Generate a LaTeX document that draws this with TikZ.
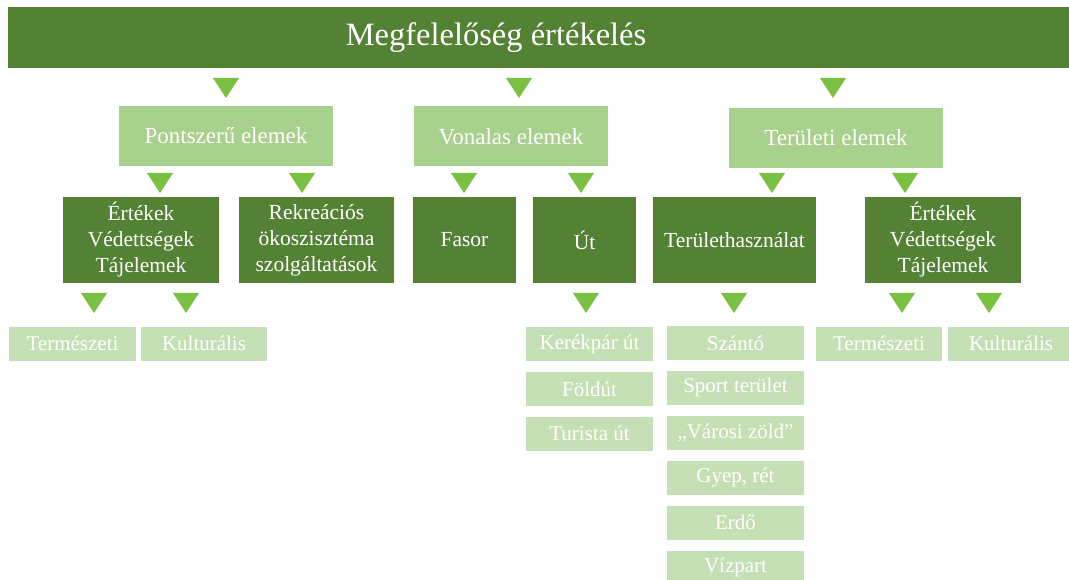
\documentclass[tikz,border=0pt]{standalone}
\usepackage{fontspec}
\setmainfont{Liberation Serif}
\usetikzlibrary{positioning}
\definecolor{mgdark}{HTML}{548235}
\definecolor{mglight}{HTML}{A9D18E}
\definecolor{mgpale}{HTML}{C5E0B4}
\definecolor{mgarrow}{HTML}{7AC143}
\tikzset{
  box/.style={inner sep=0pt,align=center,text=white},
  head/.style={box,fill=mgdark,minimum width=1064pt,minimum height=61pt},
  headtext/.style={box,font=\fontsize{32.5}{36}\selectfont},
  grp/.style={box,fill=mglight,minimum width=214pt,minimum height=60pt,font=\fontsize{23}{27}\selectfont},
  sub/.style={box,fill=mgdark,minimum height=86pt,font=\fontsize{21.5}{26}\selectfont},
  leaf/.style={box,fill=mgpale,minimum width=127pt,minimum height=34pt,font=\fontsize{21}{25}\selectfont},
  tri/.pic={\fill[mgarrow] (-13,-10) -- (13,-10) -- (0,10) -- cycle;},
}

\begin{document}
\begin{tikzpicture}[x=1pt,y=-1pt,node distance=10.5pt]
  \useasboundingbox[fill=white] (0,0) rectangle (1069,580);
  \node[head] (root) at (540,37.5) {};
  \node[headtext] (title) at ([xshift=-44pt]root.center) {Megfelelőség értékelés};

  % groups
  \node[grp] (pont) at (226,136) {Pontszerű elemek};
  \node[grp,minimum width=194pt] (vonal) at (511,136.5) {Vonalas elemek};
  \node[grp] (terul) at (836,138) {Területi elemek};
  \pic (t1) at (226,88) {tri};
  \pic (t2) at (519,88) {tri};
  \pic (t3) at (833,88) {tri};

  % second row
  \node[sub,minimum width=156pt] (ert1) at (141,240) {Értékek\\Védettségek\\Tájelemek};
  \node[sub,minimum width=155pt] (rekr) at (316.5,240) {Rekreációs\\ökoszisztéma\\szolgáltatások};
  \node[sub,minimum width=103pt] (fasor) at (464.5,240) {Fasor};
  \node[sub,minimum width=103pt] (ut) at (584.5,240) {Út};
  \node[sub,minimum width=163pt] (terhasz) at (734.5,240) {Területhasználat};
  \node[sub,minimum width=156pt] (ert2) at (943,240) {Értékek\\Védettségek\\Tájelemek};
  \pic (t4) at (160,183) {tri};
  \pic (t5) at (302,183) {tri};
  \pic (t6) at (464,183) {tri};
  \pic (t7) at (581,183) {tri};
  \pic (t8) at (772,183) {tri};
  \pic (t9) at (905,183) {tri};

  % leaves
  \node[leaf] (term1) at (72.5,343.5) {Természeti};
  \node[leaf,minimum width=126pt] (kult1) at (204,343.5) {Kulturális};
  \node[leaf] (kerek) at (589.5,344) {Kerékpár út};
  \node[leaf,below=of kerek] (foldut) {Földút};
  \node[leaf,below=of foldut] (turista) {Turista út};
  \node[leaf,minimum width=137pt] (szanto) at (735.5,343) {Szántó};
  \node[leaf,minimum width=137pt,below=of szanto] (sport) {Sport terület};
  \node[leaf,minimum width=137pt,below=of sport] (varosi) {„Városi zöld”};
  \node[leaf,minimum width=137pt,below=of varosi] (gyep) {Gyep, rét};
  \node[leaf,minimum width=137pt,below=of gyep] (erdo) {Erdő};
  \node[leaf,minimum width=137pt,below=of erdo] (vizpart) {Vízpart};
  \node[leaf,minimum width=126pt] (term2) at (879,343.5) {Természeti};
  \node[leaf,minimum width=126pt] (kult2) at (1011,343.5) {Kulturális};
  \pic (t10) at (94,303) {tri};
  \pic (t11) at (186,303) {tri};
  \pic (t12) at (586,303) {tri};
  \pic (t13) at (734,303) {tri};
  \pic (t14) at (902,303) {tri};
  \pic (t15) at (989,303) {tri};
\end{tikzpicture}
\end{document}
